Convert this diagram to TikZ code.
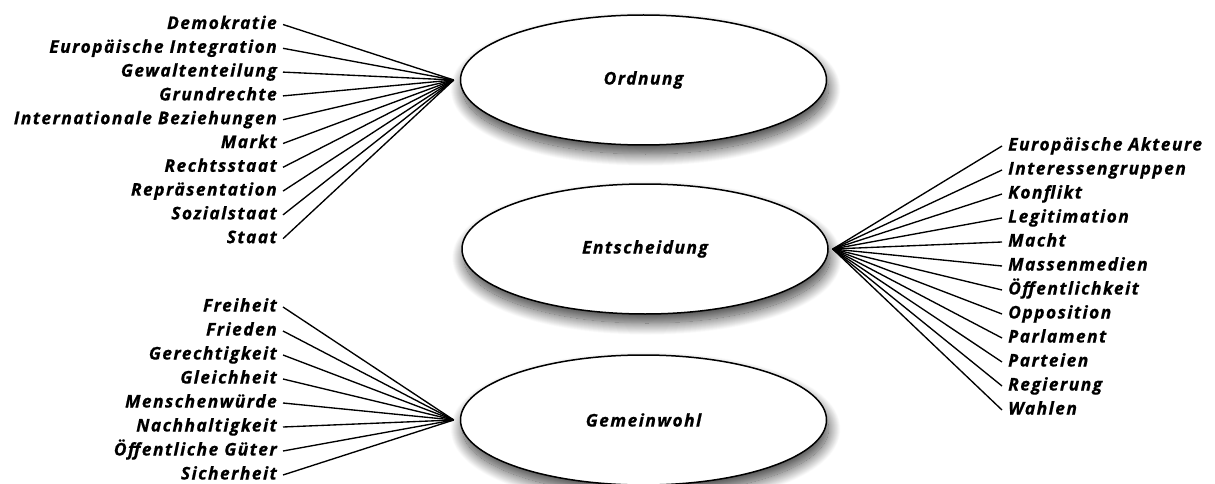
\documentclass[tikz,border=0pt]{standalone}
\usepackage{fontspec}
\setmainfont{Open Sans}
\newfontfamily\termface[LetterSpace=8,FakeBold=0.6]{Open Sans}
\usetikzlibrary{shapes.geometric,shadows.blur}
\begin{document}
\begin{tikzpicture}[x=1pt,y=1pt,
  termfont/.style={font=\termface\fontsize{17.5}{20}\selectfont\bfseries\itshape},
  topic/.style={ellipse, draw, line width=1.5pt, fill=white,
    minimum width=366pt, minimum height=130pt, inner sep=0pt, termfont,
    blur shadow={shadow xshift=2pt, shadow yshift=-9pt,
      shadow blur radius=12pt, shadow blur steps=25, shadow opacity=75}},
  term/.style={inner xsep=6pt, inner ysep=0pt, text height=13pt,
    text depth=4pt, termfont},
  lterm/.style={term, anchor=east},
  rterm/.style={term, anchor=west},
  link/.style={line width=1.35pt}]
\useasboundingbox (0,0) rectangle (1215,-484);

% the three central topics
\node[topic] (ord) at (643.5,-80) {Ordnung};
\node[topic] (ent) at (645,-249) {Entscheidung};
\node[topic] (gem) at (643.5,-420) {Gemeinwohl};

% meeting points of the fans
\coordinate (ordhub) at ([xshift=-6pt]ord.west);
\coordinate (gemhub) at ([xshift=-6pt]gem.west);
\coordinate (enthub) at ([xshift=4pt]ent.east);

% terms of Ordnung
\foreach \t [count=\i from 0] in {Demokratie, Europäische Integration,
    Gewaltenteilung, Grundrechte, Internationale Beziehungen, Markt,
    Rechtsstaat, Repräsentation, Sozialstaat, Staat} {
  \node[lterm] (o\i) at (283,{-24.5-23.8*\i}) {\t};
  \draw[link] (o\i.east) -- (ordhub);
}

% terms of Gemeinwohl
\foreach \t [count=\i from 0] in {Freiheit, Frieden, Gerechtigkeit,
    Gleichheit, Menschenwürde, Nachhaltigkeit, Öffentliche Güter,
    Sicherheit} {
  \node[lterm] (g\i) at (283,{-307-24*\i}) {\t};
  \draw[link] (g\i.east) -- (gemhub);
}

% terms of Entscheidung
\foreach \t [count=\i from 0] in {Europäische Akteure, Interessengruppen,
    Konflikt, Legitimation, Macht, Massenmedien, Öffentlichkeit,
    Opposition, Parlament, Parteien, Regierung, Wahlen} {
  \node[rterm] (e\i) at (1002,{-146-24*\i}) {\t};
  \draw[link] (e\i.west) -- (enthub);
}
\end{tikzpicture}
\end{document}
